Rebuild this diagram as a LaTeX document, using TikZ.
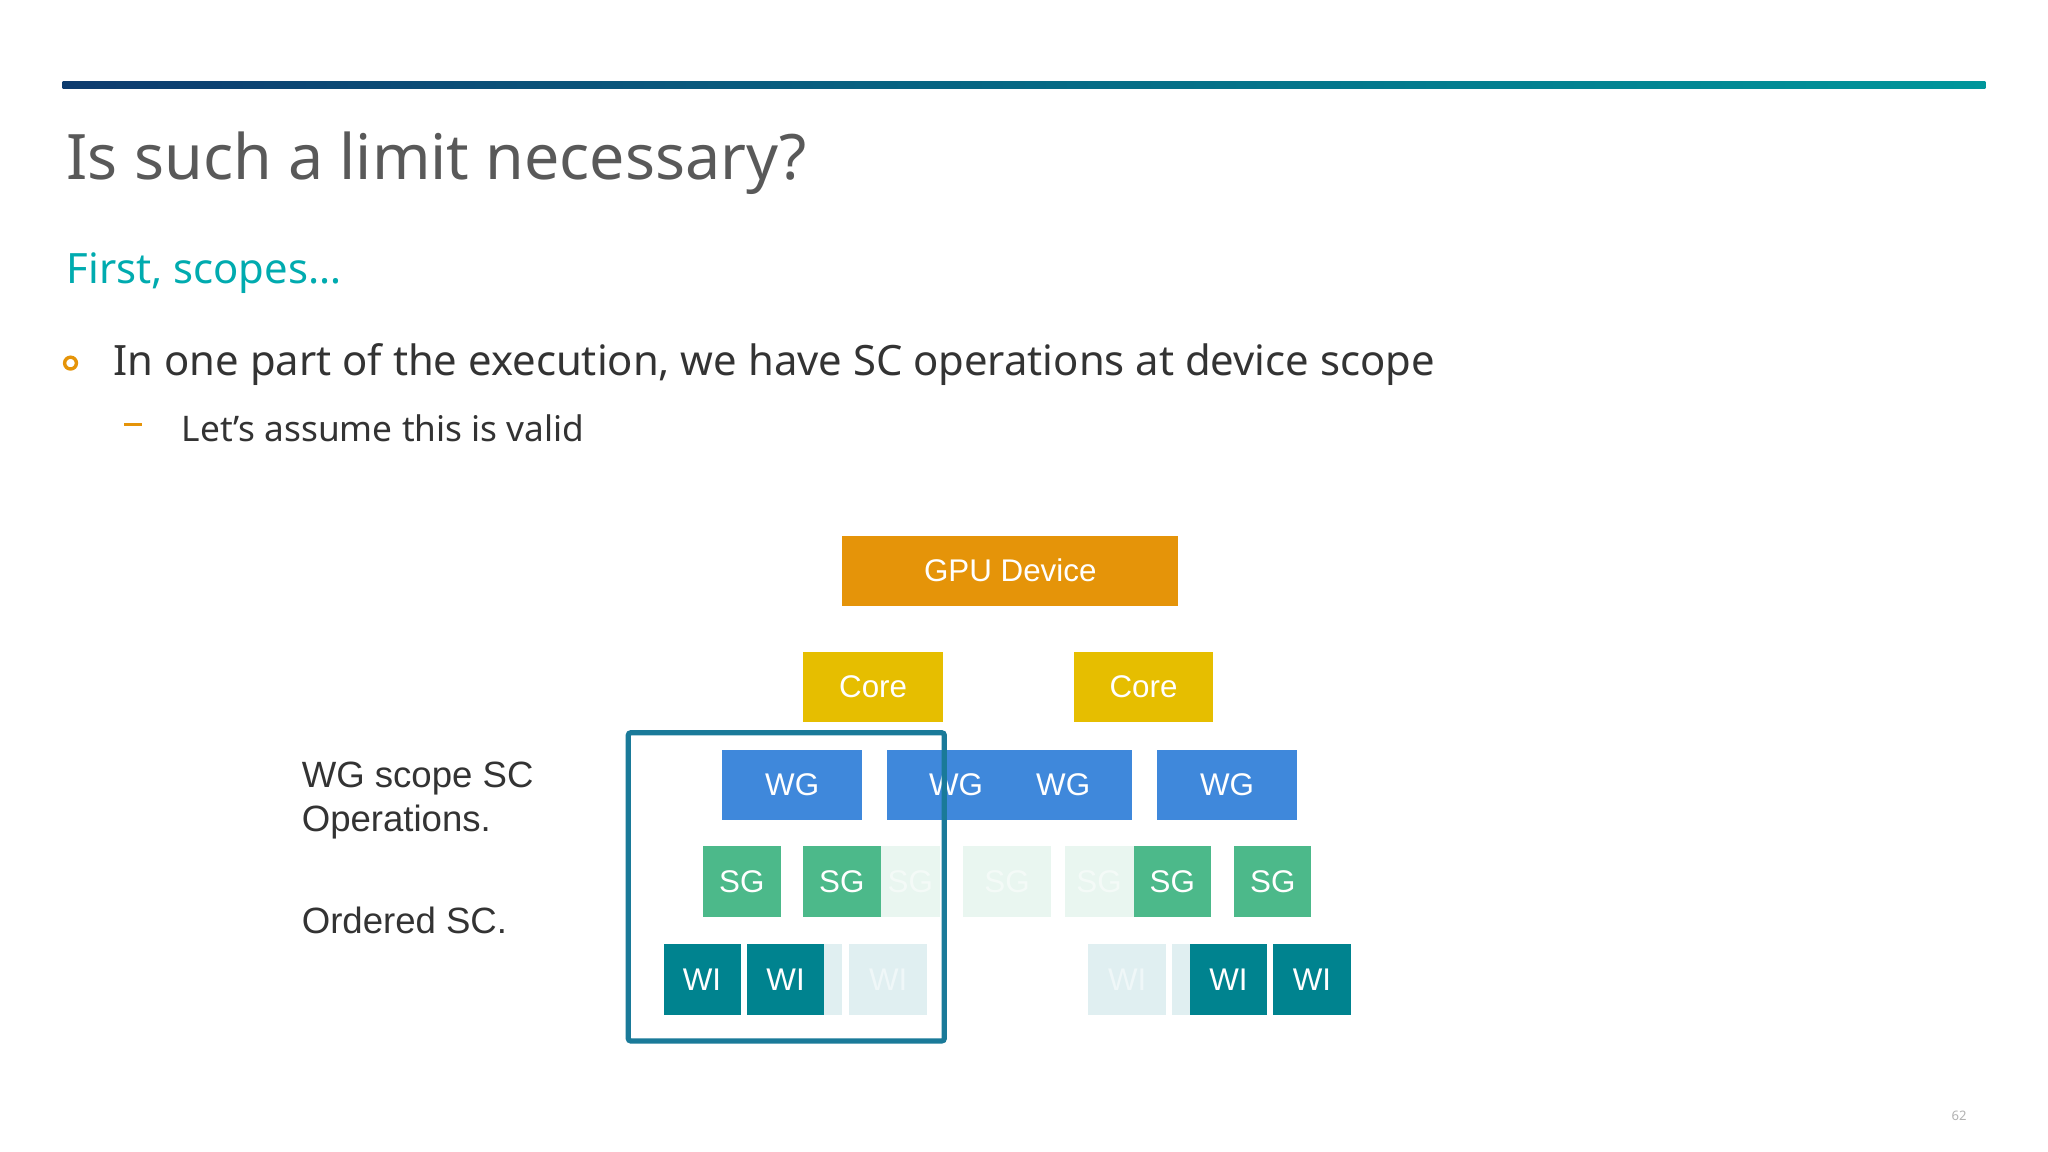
\documentclass[tikz,border=0pt]{standalone}
\usepackage{fontspec}
\setmainfont{Noto Sans}
\newfontfamily\arialf{Liberation Sans}
\begin{document}
\begin{tikzpicture}[x=0.5pt,y=-0.5pt,
 box/.style={minimum width=#1*0.5pt,minimum height=27pt,inner sep=0pt,text=white,font=\arialf\fontsize{12}{14}\selectfont},
 box/.default=107,
 fade/.style={opacity=0.12,text opacity=0.5}]
\definecolor{cOr}{HTML}{E59409}\definecolor{cYe}{HTML}{E6BE00}
\definecolor{cBl}{HTML}{3F88DB}\definecolor{cGr}{HTML}{4CB98A}
\definecolor{cTe}{HTML}{00838F}\definecolor{cSc}{HTML}{1A7A99}
\definecolor{cLine1}{HTML}{0D3B6E}\definecolor{cLine2}{HTML}{00969B}
\fill[white] (0,0) rectangle (1568,882);
\shade[left color=cLine1,right color=cLine2] (48,62.5) rectangle (1520,67.5);
\node[anchor=west,text=black!65,font=\fontsize{24}{28}\selectfont] (title) at (44,125) {Is such a limit necessary?};
\node[anchor=west,text=cLine2!80!cyan,font=\fontsize{16}{20}\selectfont] (sub) at (44,209) {First, scopes\dots};
\node[draw=cOr,line width=1.3pt,circle,inner sep=1.6pt] (b1) at (54,278) {};
\node[anchor=west,text=black!80,font=\fontsize{16}{20}\selectfont] (t1) at (80,279) {In one part of the execution, we have SC operations at device scope};
\draw[cOr,line width=1.3pt] (95,325) -- (109,325);
\node[anchor=west,text=black!80,font=\fontsize{13.5}{16}\selectfont] (t2) at (132,328) {Let’s assume this is valid};
\node[anchor=west,text=black!80,font=\arialf\fontsize{14}{17}\selectfont,align=left] (l1) at (224,613) {WG scope SC\\Operations.};
\node[anchor=west,text=black!80,font=\arialf\fontsize{14}{17}\selectfont] (l2) at (224,705) {Ordered SC.};
% diagram
\node[box=257,fill=cOr] (gpu) at (773.5,437) {GPU Device};
\node[box,fill=cYe] (c1) at (668.5,526) {Core};
\node[box,fill=cYe] (c2) at (875.5,526) {Core};
\node[box,fill=cBl] (w1) at (606.5,601) {WG};
\node[box=188,fill=cBl] (w23) at (773,601) {};
\node[box,text=white] (w2) at (732,601) {WG};
\node[box,text=white] (w3) at (814,601) {WG};
\node[box,fill=cBl] (w4) at (939.5,601) {WG};
\node[box=60,fill=cGr] (s1) at (568,675) {SG};
\node[box=60,fill=cGr] (s2) at (644.5,675) {SG};
\node[box=46,fill=cGr,fade] (s3) at (697,675) {SG};
\node[box=68,fill=cGr,fade] (s4) at (771,675) {SG};
\node[box=53,fill=cGr,fade] (s5) at (841.5,675) {SG};
\node[box=59,fill=cGr] (s6) at (897.5,675) {SG};
\node[box=59,fill=cGr] (s7) at (974.5,675) {SG};
\node[box=59,fill=cTe] (i1) at (537.5,750) {WI};
\node[box=59,fill=cTe] (i2) at (601.5,750) {WI};
\node[box=14,fill=cTe,fade] (i3) at (638,750) {};
\node[box=60,fill=cTe,fade] (i4) at (680,750) {WI};
\node[box=60,fill=cTe,fade] (i5) at (863,750) {WI};
\node[box=14,fill=cTe,fade] (i6) at (904,750) {};
\node[box=59,fill=cTe] (i7) at (940.5,750) {WI};
\node[box=59,fill=cTe] (i8) at (1004.5,750) {WI};
\draw[cSc,line width=2pt,rounded corners=1pt] (481,561) rectangle (723,797);
\node[text=black!30,font=\fontsize{5}{6}\selectfont] (pg) at (1500,854) {62};
\end{tikzpicture}
\end{document}
